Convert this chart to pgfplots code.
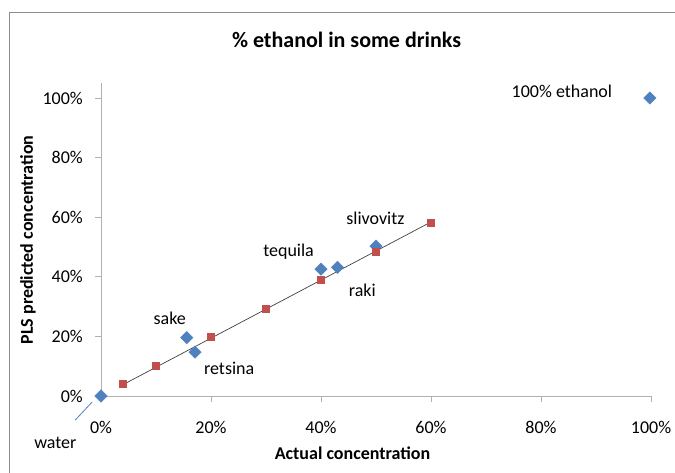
\documentclass[border=0pt]{standalone}
\usepackage{pgfplots}
\pgfplotsset{compat=1.18}
\usepackage{fontspec}
\setmainfont{Carlito}

\definecolor{exblue}{HTML}{4F81BD}
\definecolor{exred}{HTML}{C0504D}
\definecolor{axgray}{HTML}{B0B0B0}
\definecolor{framegray}{HTML}{8C8C8C}

\begin{document}
\begin{tikzpicture}
  \useasboundingbox (0,0) rectangle (675bp,473bp);
  % outer chart frame (only left and top are visible)
  \draw[framegray, line width=1bp] (9bp,0) -- (9bp,460bp) -- (675bp,460bp);

  \begin{axis}[
    at={(101bp,77bp)}, anchor=south west,
    scale only axis,
    width=550bp, height=312.9bp,
    xmin=0, xmax=100, ymin=0, ymax=105,
    clip=false,
    axis lines*=left,
    axis line style={axgray, line width=0.8bp},
    tick style={axgray, line width=0.8bp},
    tick align=outside,
    major tick length=6bp,
    xtick={0,20,40,60,80,100},
    xticklabels={0\%,20\%,40\%,60\%,80\%,100\%},
    ytick={0,20,40,60,80,100},
    yticklabels={0\%,20\%,40\%,60\%,80\%,100\%},
    ticklabel style={font=\fontsize{18bp}{21bp}\selectfont, text=black},
    xticklabel style={anchor=base, inner sep=0pt, yshift=-31.5bp},
    yticklabel style={anchor=east, inner sep=0pt, xshift=-12bp},
  ]
    % drinks: actual vs PLS predicted
    \addplot[only marks, mark=square*, mark size=4.4bp,
      mark options={rotate=45, fill=exblue, draw=exblue}] coordinates {
      (0,0)
      (15.6,19.6)
      (17.1,14.7)
      (40.0,42.6)
      (43.0,43.2)
      (50.0,50.3)
      (99.8,100)
    };
    % calibration standards
    \addplot[only marks, mark=square*, mark size=3.5bp,
      mark options={fill=exred, draw=exred, line width=0.3bp}] coordinates {
      (4,4.0)
      (10,10.1)
      (20,19.9)
      (30,29.3)
      (40,38.9)
      (50,48.4)
      (60,58.3)
    };
    % trendline through the standards
    \addplot[black!75, line width=0.7bp] coordinates {(4,3.8) (60,58.4)};

    \begin{scope}[every node/.style={font=\fontsize{18bp}{21bp}\selectfont, inner sep=0pt}]
      \node at (axis cs:83.8,102.3) {100\% ethanol};
      \node at (axis cs:49.9,59.7) {slivovitz};
      \node at (axis cs:34.1,48.3) {tequila};
      \node at (axis cs:47.5,35.3) {raki};
      \node at (axis cs:12.5,26.2) {sake};
      \node at (axis cs:23.3,9.4) {retsina};
      \node at (axis cs:-8.3,-15.8) {water};
    \end{scope}
    \draw[exblue, line width=0.8bp] (axis cs:-4.7,-8.1) -- (axis cs:-1.6,-2.0);
  \end{axis}

  \node[font=\fontsize{22bp}{26bp}\selectfont\bfseries] at (346.5bp,433bp) {\% ethanol in some drinks};
  \node[font=\fontsize{18bp}{21bp}\selectfont\bfseries, rotate=90] at (28bp,233bp) {PLS predicted concentration};
  \node[font=\fontsize{18bp}{21bp}\selectfont\bfseries] at (352.5bp,20bp) {Actual concentration};
\end{tikzpicture}
\end{document}
